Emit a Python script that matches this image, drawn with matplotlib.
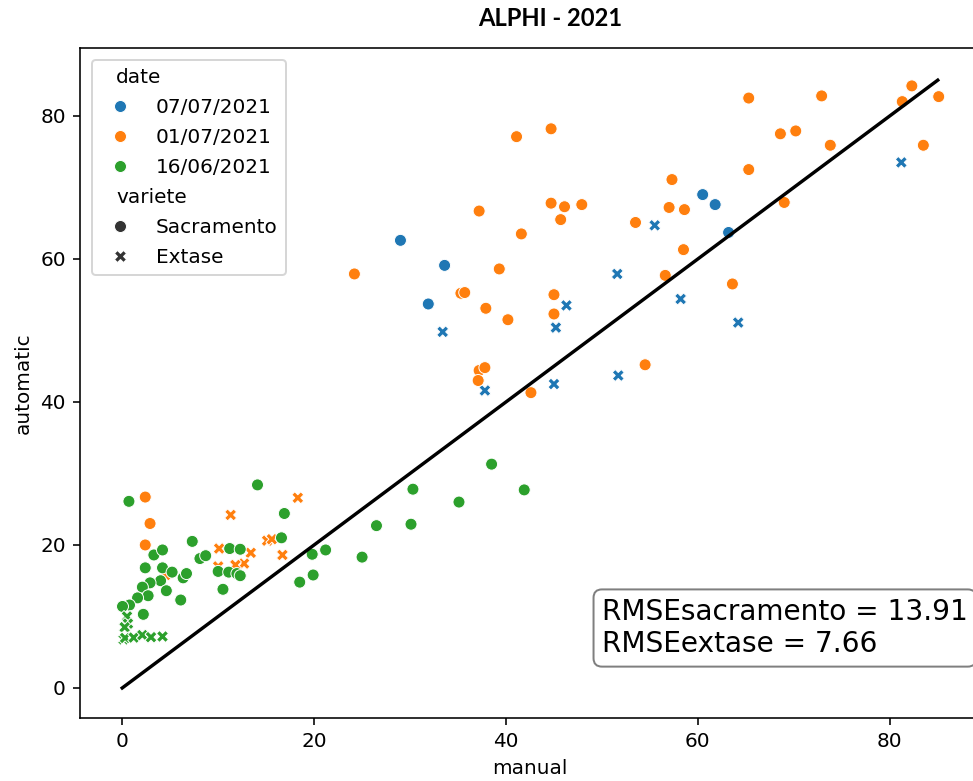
import matplotlib
matplotlib.use("Agg")
import matplotlib.pyplot as plt
from matplotlib.offsetbox import VPacker
import seaborn as sns
import pandas as pd

# --- data: manual vs automatic measurements per date and variety ---
dates = ["07/07/2021", "01/07/2021", "16/06/2021"]
varietes = ["Sacramento", "Extase"]

d0707_sac_manual = [29.0, 33.6, 31.9, 60.5, 61.8, 63.2]
d0707_sac_auto = [62.6, 59.1, 53.7, 69.0, 67.6, 63.7]
d0707_ext_manual = [55.5, 51.6, 46.3, 33.4, 45.2, 58.2, 37.8, 45.0, 51.7, 64.2, 81.2]
d0707_ext_auto = [64.7, 57.9, 53.5, 49.8, 50.4, 54.4, 41.6, 42.5, 43.7, 51.1, 73.5]

d0107_sac_manual = [41.1, 44.7, 57.3, 44.7, 46.1, 47.9, 45.7, 37.2, 41.6, 53.5,
                    57.0, 39.3, 56.6, 58.5, 35.3, 35.7, 37.9, 45.0, 40.2, 45.0,
                    24.2, 65.3, 72.9, 82.3, 81.3, 85.1, 68.6, 70.2, 73.8, 83.5,
                    65.3, 58.6, 69.0, 63.6, 37.2, 37.8, 37.1, 42.6, 54.5, 2.4,
                    2.9, 2.4]
d0107_sac_auto = [77.1, 78.2, 71.1, 67.8, 67.3, 67.6, 65.5, 66.7, 63.5, 65.1,
                  67.2, 58.6, 57.7, 61.3, 55.2, 55.3, 53.1, 55.0, 51.5, 52.3,
                  57.9, 82.5, 82.8, 84.2, 82.0, 82.7, 77.5, 77.9, 75.9, 75.9,
                  72.5, 66.9, 67.9, 56.5, 44.4, 44.8, 43.0, 41.3, 45.2, 26.7,
                  23.0, 20.0]
d0107_ext_manual = [18.3, 11.3, 15.1, 15.6, 10.1, 13.4, 12.7, 16.7, 10.0, 11.8, 4.5]
d0107_ext_auto = [26.6, 24.2, 20.6, 20.8, 19.5, 18.9, 17.4, 18.6, 17.0, 17.2, 15.8]

d1606_sac_manual = [14.1, 0.7, 16.9, 26.5, 16.6, 7.3, 3.3, 4.2, 2.4, 4.2,
                    5.2, 4.0, 2.9, 2.1, 4.6, 2.7, 1.6, 6.35, 6.7, 6.1,
                    0.76, 0.03, 2.2, 8.1, 8.7, 11.2, 12.3, 10.0, 11.1, 11.95,
                    12.3, 10.5, 19.8, 21.2, 18.5, 19.9, 25.0, 30.3, 35.1, 41.9,
                    30.1, 38.5]
d1606_sac_auto = [28.4, 26.1, 24.4, 22.7, 21.0, 20.5, 18.6, 19.3, 16.8, 16.8,
                  16.2, 15.0, 14.7, 14.1, 13.6, 12.9, 12.6, 15.4, 16.0, 12.3,
                  11.6, 11.4, 10.3, 18.1, 18.5, 19.5, 19.4, 16.3, 16.2, 16.0,
                  15.7, 13.8, 18.7, 19.3, 14.8, 15.8, 18.3, 27.8, 26.0, 27.7,
                  22.9, 31.3]
d1606_ext_manual = [0.5, 0.6, 0.25, 0.14, 0.3, 1.2, 2.1, 3.0, 4.2]
d1606_ext_auto = [10.0, 9.0, 8.5, 6.8, 7.0, 7.05, 7.4, 7.1, 7.2]

rmse_sacramento = 13.91
rmse_extase = 7.66
line_end = 85

groups = [
    (dates[0], varietes[0], d0707_sac_manual, d0707_sac_auto),
    (dates[0], varietes[1], d0707_ext_manual, d0707_ext_auto),
    (dates[1], varietes[0], d0107_sac_manual, d0107_sac_auto),
    (dates[1], varietes[1], d0107_ext_manual, d0107_ext_auto),
    (dates[2], varietes[0], d1606_sac_manual, d1606_sac_auto),
    (dates[2], varietes[1], d1606_ext_manual, d1606_ext_auto),
]
frames = [pd.DataFrame({"manual": m, "automatic": a, "date": d, "variete": v})
          for d, v, m, a in groups]
df = pd.concat(frames, ignore_index=True)

DPI = 144
fig = plt.figure(figsize=(973 / DPI, 781 / DPI), dpi=DPI)
ax = fig.add_axes([80 / 973, 1 - 718 / 781, 899 / 973, 670 / 781])

sns.scatterplot(data=df, x="manual", y="automatic", hue="date", style="variete",
                hue_order=dates, style_order=varietes, ax=ax)
ax.plot([0, line_end], [0, line_end], color="black", lw=1.7)

leg = ax.legend(loc="upper left", labelspacing=0.55, borderaxespad=0.6)
# subtitle rows ("date", "variete"): collapse the handle area so the text sits left
for row in leg.findobj(VPacker)[0].get_children():
    draw_area, text_area = row.get_children()
    label = text_area.get_children()[0].get_text()
    if label in ("date", "variete"):
        draw_area.set_width(0)
        for h in draw_area.get_children():
            h.set_visible(False)

ax.text(50, 5, f"RMSEsacramento = {rmse_sacramento}\nRMSEextase = {rmse_extase}",
        fontsize=14, bbox=dict(boxstyle="round", facecolor="white", alpha=0.5))

ax.set_xlim(-4.4, 89.3)
ax.set_ylim(-4.2, 89.5)
ax.set_xticks([0, 20, 40, 60, 80])
ax.set_yticks([0, 20, 40, 60, 80])
ax.spines["right"].set_visible(False)

fig.text(550 / 973, 1 - 18 / 781, "ALPHI - 2021", family="Lato", weight="bold",
         fontsize=11.9, ha="center", va="center")

fig.savefig("out.png", dpi=DPI)
